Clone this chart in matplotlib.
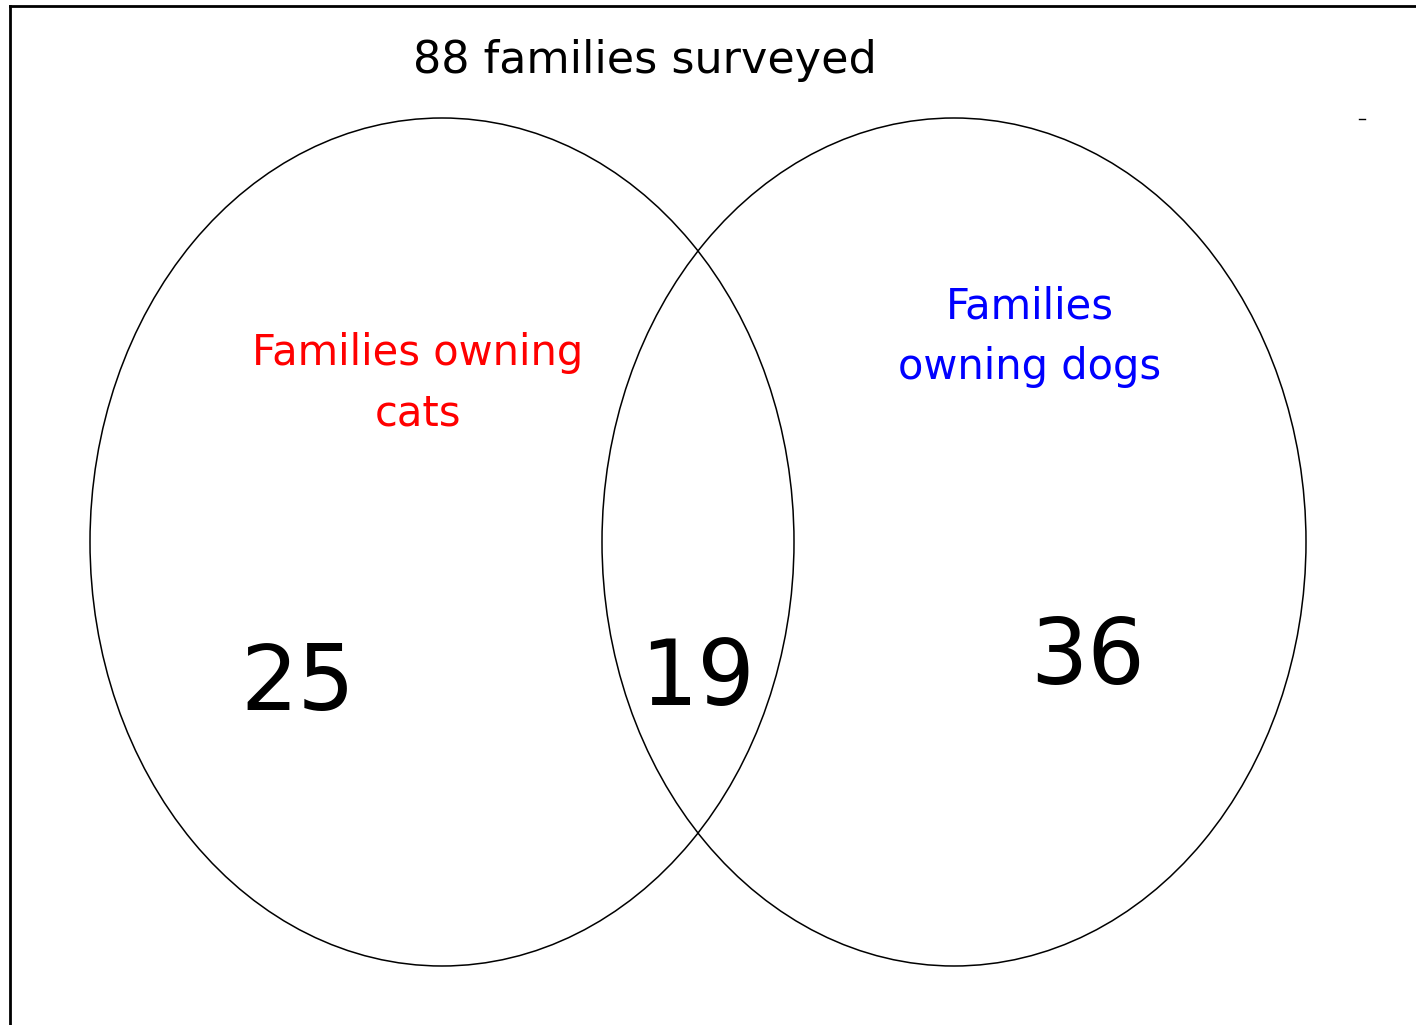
import matplotlib
matplotlib.use("Agg")
import matplotlib.pyplot as plt
from matplotlib.patches import Ellipse

total = 88
set_names = ["Families owning\ncats", "Families\nowning dogs"]
set_colors = ["#ff0000", "#0000ff"]
counts = [25, 19, 36]   # cats only, both, dogs only

W, H = 1416, 1025
fig = plt.figure(figsize=(W / 100, H / 100), dpi=100)
ax = fig.add_axes([0, 0, 1, 1])
ax.set_xlim(0, W)
ax.set_ylim(H, 0)
ax.axis("off")

# frame (top and left only)
ax.plot([10, W], [6, 6], color="black", lw=2)
ax.plot([10, 10], [6, H], color="black", lw=2)
ax.plot([1359, 1365], [119, 119], color="black", lw=1)

# the two sets
centers = [442, 954]
for cx in centers:
    ax.add_patch(Ellipse((cx, 542), 704, 848, fill=False, ec="black", lw=1.1))

ax.text(645, 60, f"{total} families surveyed", ha="center", va="center", fontsize=32)

ax.text(418, 383, set_names[0], color=set_colors[0], ha="center", va="center",
        fontsize=30, linespacing=1.55)
ax.text(1030, 337, set_names[1], color=set_colors[1], ha="center", va="center",
        fontsize=30, linespacing=1.55)

num_pos = [(298, 685), (698, 680), (1088, 659)]
for (x, y), c in zip(num_pos, counts):
    ax.text(x, y, str(c), ha="center", va="center", fontsize=65)

fig.savefig("out.png", dpi=100)
